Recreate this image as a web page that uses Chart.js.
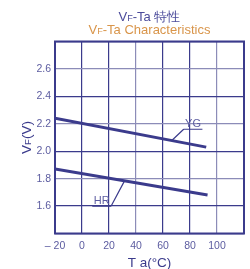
<!DOCTYPE html>
<html>
<head>
<meta charset="utf-8">
<script src="https://cdn.jsdelivr.net/npm/chart.js@4.4.1/dist/chart.umd.min.js"></script>
<style>
html,body{margin:0;padding:0;background:#fff;}
#wrap{width:250px;height:269px;position:relative;}
</style>
</head>
<body>
<div id="wrap"><canvas id="c" width="250" height="269"></canvas></div>
<script>
// ---- data ----
const seriesNames = ['YG', 'HR'];
const ygTemp = [-20, 92];
const ygVF = [2.24, 2.03];
const hrTemp = [-20, 93];
const hrVF = [1.87, 1.68];
const xTicks = [-20, 0, 20, 40, 60, 80, 100];
const yTicks = [1.6, 1.8, 2.0, 2.2, 2.4, 2.6];
// label leaders: [underline start Ta, underline end Ta, underline VF, leader end Ta, leader end VF, leader attaches at 'start'|'end']
const ygLabel = [75.3, 89.2, 2.16, 66.7, 2.08, 'start'];
const hrLabel = [7.6, 21.6, 1.60, 31.3, 1.78, 'end'];

const NAVY = '#3b3b8c';
const LIGHT = '#8c8cb8';
const TICK = '#5c5ca0';
const FONT = '"Liberation Sans", Arial, sans-serif';

const toPts = (xs, ys) => xs.map((x, i) => ({x: x, y: ys[i]}));

const frame = {
  id: 'frame',
  afterDraw(chart) {
    const ctx = chart.ctx, a = chart.chartArea;
    const xs = chart.scales.x, ys = chart.scales.y;
    ctx.save();
    // border
    ctx.strokeStyle = NAVY; ctx.lineWidth = 2;
    ctx.strokeRect(a.left, a.top, a.right - a.left, a.bottom - a.top);
    // labels with leaders
    const labels = [[seriesNames[0], ygLabel], [seriesNames[1], hrLabel]];
    ctx.lineWidth = 1.2;
    ctx.fillStyle = TICK;
    ctx.font = '11px ' + FONT;
    ctx.textAlign = 'center'; ctx.textBaseline = 'alphabetic';
    labels.forEach(([name, L]) => {
      const x1 = xs.getPixelForValue(L[0]), x2 = xs.getPixelForValue(L[1]);
      const y = ys.getPixelForValue(L[2]);
      const lx = xs.getPixelForValue(L[3]), ly = ys.getPixelForValue(L[4]);
      ctx.beginPath();
      ctx.moveTo(x1, y); ctx.lineTo(x2, y);
      const ax = L[5] === 'start' ? x1 : x2;
      ctx.moveTo(ax, y); ctx.lineTo(lx, ly);
      ctx.stroke();
      ctx.fillText(name, (x1 + x2) / 2, y - 2);
    });
    // titles
    const cx = (a.left + a.right) / 2;
    const drawSub = (parts, x, y, color, size) => {
      ctx.fillStyle = color;
      ctx.textAlign = 'left';
      let w = 0;
      parts.forEach(p => { ctx.font = (p[1] ? size * 0.7 : size) + 'px ' + FONT; w += ctx.measureText(p[0]).width; });
      let px = x - w / 2;
      parts.forEach(p => {
        ctx.font = (p[1] ? size * 0.7 : size) + 'px ' + FONT;
        ctx.fillText(p[0], px, y);
        px += ctx.measureText(p[0]).width;
      });
    };
    drawSub([['V', 0], ['F', 1], ['-Ta 特性', 0]], cx, 21, '#4b4b9b', 13);
    drawSub([['V', 0], ['F', 1], ['-Ta Characteristics', 0]], cx, 33.5, '#d9954a', 13);
    // x title
    drawSub([['T a(°C)', 0]], cx, 267, NAVY, 13.5);
    // y title rotated
    ctx.save();
    ctx.translate(31, (a.top + a.bottom) / 2);
    ctx.rotate(-Math.PI / 2);
    drawSub([['V', 0], ['F', 1], ['(V)', 0]], 0, 0, NAVY, 13.5);
    ctx.restore();
    ctx.restore();
  }
};

new Chart(document.getElementById('c'), {
  type: 'line',
  data: {
    datasets: [
      {label: seriesNames[0], data: toPts(ygTemp, ygVF), borderColor: NAVY, borderWidth: 3, pointRadius: 0, fill: false},
      {label: seriesNames[1], data: toPts(hrTemp, hrVF), borderColor: NAVY, borderWidth: 3, pointRadius: 0, fill: false}
    ]
  },
  options: {
    responsive: false,
    animation: false,
    devicePixelRatio: 1,
    layout: {padding: {top: 41.5, right: 4, left: 0, bottom: 0}},
    plugins: {legend: {display: false}, tooltip: {enabled: false}, title: {display: false}},
    scales: {
      x: {
        type: 'linear', min: -20, max: 120,
        afterFit: s => { s.height = 35.5; },
        afterBuildTicks: s => { s.ticks = xTicks.concat([120]).map(v => ({value: v})); },
        border: {display: false},
        grid: {drawTicks: false, lineWidth: 1.2,
          color: c => (c.tick && (c.tick.value === 40 || c.tick.value === 100)) ? LIGHT : NAVY},
        ticks: {padding: 6, color: TICK, font: {family: FONT, size: 10.5}, maxRotation: 0,
          callback: v => v === 120 ? '' : (v < 0 ? '– ' + Math.abs(v) : String(v))}
      },
      y: {
        type: 'linear', min: 1.4, max: 2.8,
        afterFit: s => { s.width = 55; },
        afterBuildTicks: s => { s.ticks = [1.4].concat(yTicks, [2.8]).map(v => ({value: v})); },
        border: {display: false},
        grid: {drawTicks: false, lineWidth: 1.2,
          color: c => { const v = c.tick ? Math.round(c.tick.value * 10) : 0; return (v === 18 || v === 22 || v === 26) ? LIGHT : NAVY; }},
        ticks: {padding: 4, color: TICK, font: {family: FONT, size: 10.5},
          callback: v => { const r = Math.round(v * 10); return (r === 14 || r === 28) ? '' : v.toFixed(1); }}
      }
    }
  },
  plugins: [frame]
});
</script>
</body>
</html>
